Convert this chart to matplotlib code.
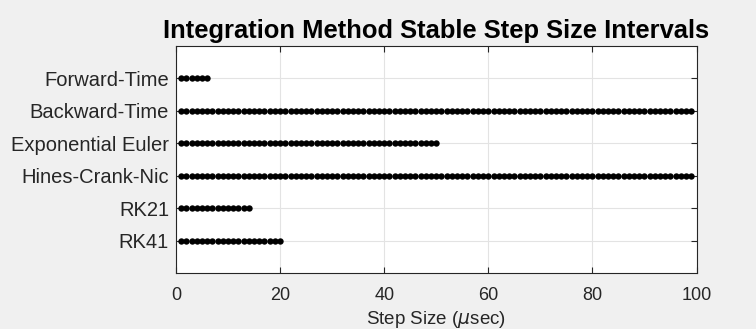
import matplotlib
matplotlib.use("Agg")
import matplotlib.pyplot as plt
import numpy as np

methods = ["Forward-Time", "Backward-Time", "Exponential Euler",
           "Hines-Crank-Nic", "RK21", "RK41"]
max_stable_step = [6, 99, 50, 99, 14, 20]  # microseconds, stable steps from 1..max
xticks = [0, 20, 40, 60, 80, 100]

plt.rcParams['font.family'] = ['Liberation Sans', 'DejaVu Sans']

fig = plt.figure(figsize=(7.56, 3.29), dpi=100, facecolor='#F0F0F0')
ax = fig.add_axes([176/756, 1-273/329, (696.5-176)/756, (273-46)/329])
ax.set_facecolor('white')

n = len(methods)
for i, (m, mx) in enumerate(zip(methods, max_stable_step)):
    steps = np.arange(1, mx + 1)
    ypos = n - i
    ax.plot(steps, np.full_like(steps, ypos, dtype=float), 'o', color='black',
            markersize=4.6, markeredgewidth=0, zorder=3)

ax.set_xlim(0, 100)
ax.set_ylim(0, n + 1)
ax.set_xticks(xticks)
ax.set_yticks(np.arange(n, 0, -1))
ax.set_yticklabels(methods)
ax.grid(True, color='#E3E3E3', linewidth=0.8, zorder=0)
ax.set_axisbelow(True)
ax.tick_params(direction='in', length=4, width=0.8, colors='#262626',
               top=True, right=True)
ax.tick_params(axis='x', labelsize=13, pad=10)
ax.tick_params(axis='y', labelsize=14.5, pad=5)
for s in ax.spines.values():
    s.set_color('#262626')
    s.set_linewidth(0.8)
ax.set_xlabel('Step Size ($\\mu$sec)', fontsize=13.5, color='#262626', labelpad=4)
ax.set_title('Integration Method Stable Step Size Intervals', fontsize=18.4,
             fontweight='bold', color='black', pad=6)

fig.savefig('out.png', dpi=100, facecolor=fig.get_facecolor())
